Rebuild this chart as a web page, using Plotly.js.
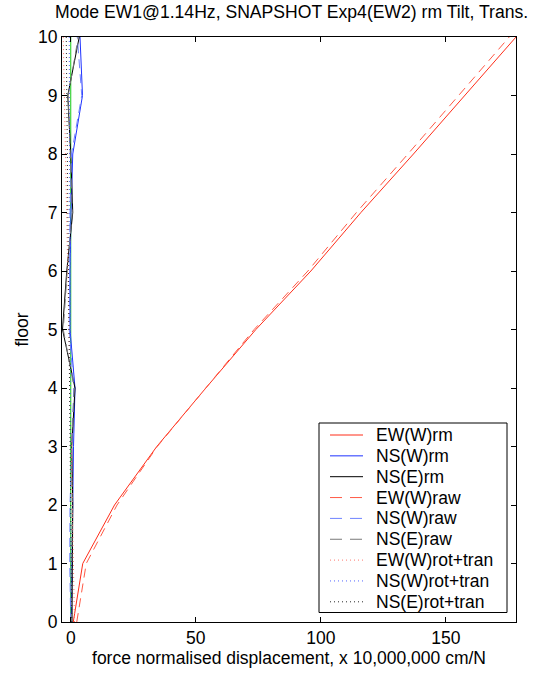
<!DOCTYPE html>
<html>
<head>
<meta charset="utf-8">
<script src="https://cdn.plot.ly/plotly-3.0.1.min.js"></script>
<style>
  html, body { margin: 0; padding: 0; background: #fff; }
  #chart { width: 542px; height: 673px; }
</style>
</head>
<body>
<div id="chart"></div>
<script>
// ---- data ----
const floors = [0, 1, 2, 3, 4, 5, 6, 7, 8, 9, 10];
const floorEnds = [0, 10];

const ewWRm  = [1.0, 4.8, 17.5, 34.4, 54.0, 74.0, 96.0, 116.0, 137.0, 157.5, 178.0];
const nsWRm  = [0.2, 0.4, 0.8, 1.1, 1.7, -0.3, -0.3, 0.1, 0.8, 4.7, 3.7];
const nsERm  = [0.5, 0.6, 0.8, 0.4, 1.7, -3.3, -1.6, 0.8, 0.0, -1.2, 3.4];
const ewWRaw = [2.4, 6.2, 18.5, 34.6, 54.0, 73.3, 94.8, 114.2, 134.8, 155.0, 175.3];
const nsWRaw = [0.0, -0.4, -0.3, 0.3, 1.2, -0.6, -0.6, -0.3, 0.3, 4.4, 2.6];
const nsERaw = [0.3, 0.4, 0.6, 0.3, 1.4, -3.0, -1.4, 0.6, -0.2, -1.0, 3.0];
const ewWRot = [1.5, -3.0];
const nsWRot = [0.1, -0.6];
const nsERot = [0.4, -1.8];
const zeroRef = [0, 0];

const names = ['EW(W)rm', 'NS(W)rm', 'NS(E)rm', 'EW(W)raw', 'NS(W)raw', 'NS(E)raw',
               'EW(W)rot+tran', 'NS(W)rot+tran', 'NS(E)rot+tran'];
const xTickVals = [0, 50, 100, 150];
const yTickVals = [0, 1, 2, 3, 4, 5, 6, 7, 8, 9, 10];

// ---- styles ----
const DASH = '9px,6px';
const LDASH = '12px,8px';
const DOT = '1px,3px';
const styles = [
  { color: 'rgb(255,45,25)',   dash: 'solid' },
  { color: 'rgb(30,50,255)',   dash: 'solid' },
  { color: 'rgb(0,0,0)',       dash: 'solid' },
  { color: 'rgb(255,90,70)',   dash: DASH },
  { color: 'rgb(110,130,255)', dash: DASH },
  { color: 'rgb(120,120,120)', dash: DASH },
  { color: 'rgb(255,120,110)', dash: DOT },
  { color: 'rgb(80,100,255)',  dash: DOT },
  { color: 'rgb(40,40,40)',    dash: DOT }
];
const series = [
  [ewWRm, floors], [nsWRm, floors], [nsERm, floors],
  [ewWRaw, floors], [nsWRaw, floors], [nsERaw, floors],
  [ewWRot, floorEnds], [nsWRot, floorEnds], [nsERot, floorEnds]
];

const data = [{
  type: 'scatter', mode: 'lines', x: zeroRef, y: floorEnds, name: 'ref',
  showlegend: false, line: { color: 'rgb(20,200,20)', width: 1 }
}];
series.forEach((s, i) => {
  data.push({
    type: 'scatter', mode: 'lines', x: s[0], y: s[1], name: names[i],
    showlegend: false,
    line: { color: styles[i].color, dash: styles[i].dash, width: 1 }
  });
});

// ---- manual legend (MATLAB-like box) ----
const L = 62, R = 516, T = 37, B = 622;
const px = v => (v - L) / (R - L);
const py = v => (B - v) / (B - T);
const FONT = 'Liberation Sans, Arial, Helvetica, sans-serif';
const FS = 17.5;

const shapes = [{
  type: 'rect', xref: 'paper', yref: 'paper',
  x0: px(319), x1: px(507), y0: py(612.5), y1: py(423),
  line: { color: '#000', width: 1 }, fillcolor: '#fff', layer: 'above'
}];
const annotations = [];
names.forEach((n, i) => {
  const yy = py(435 + i * 20.85);
  const d = styles[i].dash === DASH ? LDASH : styles[i].dash;
  shapes.push({
    type: 'line', xref: 'paper', yref: 'paper',
    x0: px(330), x1: px(363), y0: yy, y1: yy,
    line: { color: styles[i].color, dash: d, width: 1 }, layer: 'above'
  });
  annotations.push({
    xref: 'paper', yref: 'paper', x: px(374), y: yy,
    xanchor: 'left', yanchor: 'middle', showarrow: false,
    text: n, font: { family: FONT, size: FS, color: '#000' }
  });
});

const layout = {
  width: 542, height: 673,
  margin: { l: L, r: 542 - R, t: T, b: 673 - B, pad: 0 },
  paper_bgcolor: '#fff', plot_bgcolor: '#fff',
  font: { family: FONT, size: FS, color: '#000' },
  title: {
    text: 'Mode EW1@1.14Hz, SNAPSHOT Exp4(EW2) rm Tilt, Trans.',
    font: { family: FONT, size: 17.6, color: '#000' },
    x: 0.538, xanchor: 'center', y: 0.982, yanchor: 'middle'
  },
  showlegend: false,
  shapes: shapes,
  annotations: annotations,
  xaxis: {
    range: [-3.5, 178],
    tickvals: xTickVals, ticktext: xTickVals.map(String),
    ticks: 'inside', ticklen: 5, tickcolor: '#000',
    showline: true, linecolor: '#000', linewidth: 1, mirror: 'ticks',
    showgrid: false, zeroline: false,
    tickfont: { size: FS },
    title: { text: 'force normalised displacement, x 10,000,000 cm/N', font: { size: FS }, standoff: 2 }
  },
  yaxis: {
    range: [0, 10],
    tickvals: yTickVals, ticktext: yTickVals.map(String),
    ticks: 'inside', ticklen: 5, tickcolor: '#000',
    showline: true, linecolor: '#000', linewidth: 1, mirror: 'ticks',
    showgrid: false, zeroline: false,
    tickfont: { size: FS },
    title: { text: 'floor', font: { size: FS }, standoff: 4 }
  }
};

Plotly.newPlot('chart', data, layout, { displayModeBar: false, staticPlot: true });
</script>
</body>
</html>
